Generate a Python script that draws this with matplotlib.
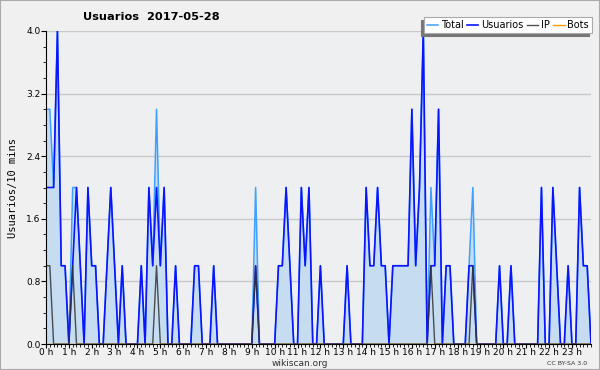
import matplotlib.pyplot as plt
from matplotlib.patches import Rectangle
from matplotlib.ticker import MultipleLocator

plt.rcParams['font.family'] = ['DejaVu Sans']

# valores cada 10 minutos (144 puntos)
usuarios = [2, 2, 2, 4, 1, 1, 0, 1, 2, 1, 0, 2, 1, 1, 0, 0, 1, 2, 1, 0,
            1, 0, 0, 0, 0, 1, 0, 2, 1, 2, 1, 2, 0, 0, 1, 0, 0, 0, 0, 1,
            1, 0, 0, 0, 1, 0, 0, 0, 0, 0, 0, 0, 0, 0, 0, 1, 0, 0, 0, 0,
            0, 1, 1, 2, 1, 0, 0, 2, 1, 2, 0, 0, 1, 0, 0, 0, 0, 0, 0, 1,
            0, 0, 0, 0, 2, 1, 1, 2, 1, 1, 0, 1, 1, 1, 1, 1, 3, 1, 2, 4,
            0, 1, 1, 3, 0, 1, 1, 0, 0, 0, 0, 1, 1, 0, 0, 0, 0, 0, 0, 1,
            0, 0, 1, 0, 0, 0, 0, 0, 0, 0, 2, 0, 0, 2, 1, 0, 0, 1, 0, 0,
            2, 1, 1, 0]
ip = [0] * 144
for k in (0, 1, 7, 29, 55, 101, 112):
    ip[k] = 1
bots = [0] * 144
total = [u + i + b for u, i, b in zip(usuarios, ip, bots)]

horas = ['%d h' % h for h in range(24)]

fig = plt.figure(figsize=(6, 3.7), dpi=100, facecolor='#f0f0f0')
ax = fig.add_axes([46 / 600, 1 - 344 / 370, 545 / 600, 313 / 370])
ax.set_facecolor('#eeeff1')

x = list(range(len(total)))
ax.fill_between(x, total, color='#c6ddf1', lw=0)
ax.plot(x, total, color='#3fa0ff', lw=1.1, label='Total')
ax.plot(x, usuarios, color='#0a14ff', lw=1.2, label='Usuarios')
ax.plot(x, ip, color='#333333', lw=1.0, alpha=0.85, label='IP')
ax.plot(x, bots, color='#ff9900', lw=1.0, label='Bots', alpha=0)

ax.set_xlim(0, 143)
ax.set_ylim(0, 4.0)
ax.set_yticks([0.0, 0.8, 1.6, 2.4, 3.2, 4.0])
ax.set_yticklabels(['0.0', '0.8', '1.6', '2.4', '3.2', '4.0'], fontsize=6.5)
ax.yaxis.set_minor_locator(MultipleLocator(0.2))
ax.set_xticks([6 * h for h in range(24)])
ax.set_xticklabels(horas, fontsize=6.5)
ax.xaxis.set_minor_locator(MultipleLocator(1))
ax.tick_params(axis='both', which='major', length=3.5, width=0.8, pad=0.5)
ax.tick_params(axis='both', which='minor', length=2.5, width=0.6)
ax.tick_params(axis='x', which='major', length=3, pad=0)
ax.grid(axis='y', color='#c8c8c8', lw=1)
ax.set_axisbelow(True)
for s in ('top', 'right'):
    ax.spines[s].set_visible(False)

ax.set_ylabel('Usuarios/10 mins', family='DejaVu Sans Mono', fontsize=7.5, labelpad=6)

fig.text(0.252, 0.954, 'Usuarios  2017-05-28', fontsize=8.2, fontweight='bold',
         ha='center', va='center')
fig.text(0.5, 0.018, 'wikiscan.org', fontsize=6.5, ha='center', va='center', color='#333333')
fig.text(0.978, 0.018, 'CC BY-SA 3.0', fontsize=4.5, ha='right', va='center', color='#333333')

h, l = ax.get_legend_handles_labels()
h[3].set_alpha(1)
leg = fig.legend(h, l, loc='upper right', bbox_to_anchor=(592 / 600, 1 - 17 / 370),
                 ncol=4, fontsize=7, handlelength=1.2, handletextpad=0.3,
                 columnspacing=0.3, borderpad=0.3, borderaxespad=0, fancybox=False,
                 edgecolor='#aaaaaa', framealpha=1,
                 shadow={'ox': -2, 'oy': -2, 'color': '#777777', 'alpha': 1})
leg.get_frame().set_linewidth(0.8)

fig.patches.append(Rectangle((0, 0), 1, 1, transform=fig.transFigure, fill=False,
                             edgecolor='#aaaaaa', lw=1.5))

fig.savefig('out.png', dpi=100, facecolor=fig.get_facecolor())
